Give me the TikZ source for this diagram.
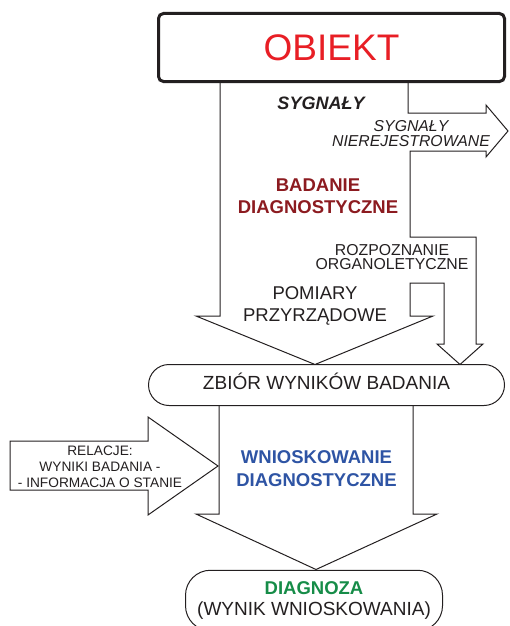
\documentclass[tikz,border=0pt]{standalone}
\usepackage{fontspec}
\setmainfont{Liberation Sans}
\usetikzlibrary{shapes}
\definecolor{lineGray}{RGB}{35,31,32}
\definecolor{obiektRed}{RGB}{232,30,37}
\definecolor{badanieRed}{RGB}{140,27,32}
\definecolor{wnioskBlue}{RGB}{46,84,164}
\definecolor{diagGreen}{RGB}{22,140,72}
\tikzstyle{objBox} = [rectangle, rounded corners=5pt, draw=lineGray, line width=3pt, minimum width=346pt,
minimum height=68pt, text=obiektRed, font=\fontsize{37}{40}\selectfont]
\tikzstyle{pillBox} = [rectangle, draw=lineGray, line width=1pt, text=lineGray, inner sep=0pt, align=center]
\tikzstyle{plainText} = [text=lineGray, align=center, inner sep=0pt]
\tikzstyle{boldText} = [align=center, inner sep=0pt]
\tikzstyle{blockArrow} = [draw=lineGray, line width=1pt, line join=miter]

\begin{document}
\begin{tikzpicture}[x=1pt, y=-1pt]

    \path[use as bounding box, clip] (0,0) rectangle (509,626);

    \node (obiekt) [objBox] at (331.5,47.5) {OBIEKT};
    \node (zbior) [pillBox, rounded corners=20.5pt, minimum width=356pt, minimum height=41pt,
    text height=14pt, text depth=6pt, font=\fontsize{19}{21}\selectfont] at (326.5,385) {ZBIÓR WYNIKÓW BADANIA};
    \node (diagnoza) [pillBox, rounded corners=25pt, minimum width=257pt, minimum height=60.5pt,
    font=\fontsize{19}{21.5}\selectfont] at (314,600.5)
    {{\color{diagGreen}\fontsize{18.5}{21}\selectfont\bfseries DIAGNOZA}\\(WYNIK WNIOSKOWANIA)};

    % badanie diagnostyczne
    \draw[blockArrow] (220,83) -- (220,316) -- (196,316) -- (315,364.5) -- (433,316) -- (410,316)
    -- (410,283) -- (444,283) -- (444,344) -- (437,344) -- (460,364.5) -- (483,344) -- (476,344)
    -- (476,237) -- (410,237) -- (410,151) -- (486,151) -- (486,157) -- (508,131) -- (486,105)
    -- (486,113) -- (408,113) -- (408,83);

    % wnioskowanie diagnostyczne
    \draw[blockArrow] (219,406) -- (219,514) -- (196,514) -- (316,569.5) -- (437,514) -- (413,514) -- (413,406);
    \draw[blockArrow] (218,466) -- (148,417) -- (148,441) -- (10,441) -- (10,490) -- (148,490) -- (148,515) -- cycle;

    \node (sygnaly) [plainText, font=\fontsize{18}{20}\selectfont\bfseries\itshape] at (321,103) {SYGNAŁY};
    \node (nierej) [plainText, font=\fontsize{15.8}{15}\selectfont\itshape] at (411,134) {SYGNAŁY\\NIEREJESTROWANE};
    \node (badanie) [boldText, text=badanieRed, font=\fontsize{18.5}{21.5}\selectfont\bfseries] at (318,196)
    {BADANIE\\DIAGNOSTYCZNE};
    \node (rozpoznanie) [plainText, font=\fontsize{15.8}{14.5}\selectfont] at (392,257) {ROZPOZNANIE\\ORGANOLETYCZNE};
    \node (pomiary) [plainText, font=\fontsize{18.5}{21.5}\selectfont] at (315,306) {POMIARY\\PRZYRZĄDOWE};
    \node (wnioskowanie) [boldText, text=wnioskBlue, font=\fontsize{18.5}{23}\selectfont\bfseries] at (316.5,468.5)
    {WNIOSKOWANIE\\DIAGNOSTYCZNE};
    \node (relacje) [plainText, font=\fontsize{13.7}{16}\selectfont] at (100,467)
    {RELACJE:\\WYNIKI BADANIA -\\- INFORMACJA O STANIE};

\end{tikzpicture}
\end{document}
